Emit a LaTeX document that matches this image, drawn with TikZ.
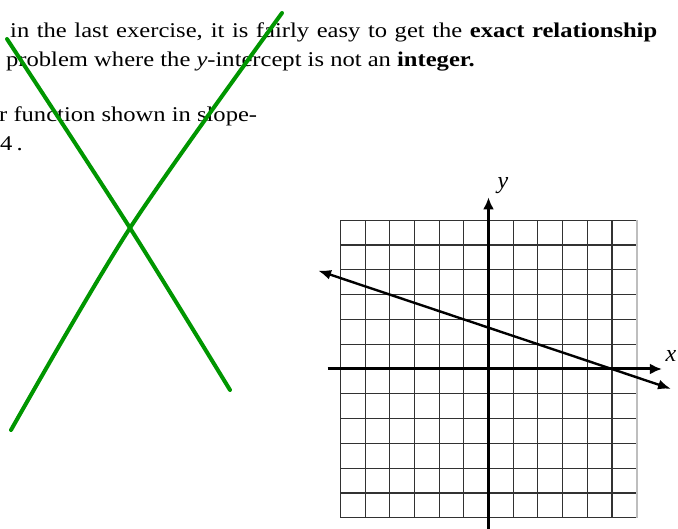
\documentclass[tikz,border=0pt]{standalone}
\usepackage{fontspec}
\setmainfont{Liberation Serif}
\usetikzlibrary{arrows.meta}
\definecolor{penGreen}{RGB}{0,150,0}
\definecolor{gridGray}{RGB}{50,50,50}
\definecolor{shadeGray}{RGB}{190,190,190}
\newcommand{\wide}[1]{\scalebox{1.17}[1]{#1}}
\tikzset{
  txt/.style={anchor=base west, inner sep=0pt, font=\fontsize{21}{24}\selectfont},
  axlabel/.style={inner sep=0pt, font=\fontsize{24}{26}\selectfont\itshape},
  gridline/.style={draw=gridGray, line width=1.3pt},
  axisline/.style={draw=black, line width=3pt, -{Latex[length=12pt,width=11pt]}},
  graphline/.style={draw=black, line width=2.4pt, {Latex[length=13pt,width=10pt]}-{Latex[length=13pt,width=10pt]}},
  penstroke/.style={draw=penGreen, line width=4pt, line cap=round, line join=round}
}
\begin{document}
\begin{tikzpicture}[x=1pt,y=-1pt]
\useasboundingbox (0,0) rectangle (678,529);
\fill[white] (0,0) rectangle (678,529);
% text
\node[txt] (l1) at (10,38) {\wide{\makebox[553pt][s]{in the last exercise, it is fairly easy to get the \textbf{exact relationship}}}};
\node[txt] (l2) at (6,67) {\wide{problem where the \textit{y}-intercept is not an \textbf{integer.}}};
\node[txt] (l3) at (-1,122) {\wide{r function shown in slope-}};
\node[txt] (l4) at (0,151) {\wide{4\,.}};
% grid
\begin{scope}[shift={(488.5,369)}, x=24.67pt, y=24.8pt]
  \foreach \i in {-6,...,5} \draw[gridline] (\i,-6) -- (\i,6);
  \foreach \j in {-6,...,6} \draw[gridline] (-6,\j) -- (6,\j);
  \draw[shadeGray, line width=2.6pt] (6.02,-6) -- (6.02,6);
  \coordinate (xs) at (-6.52,0);
  \coordinate (xe) at (7.03,0);
  \coordinate (ys) at (0,-6.5);
  \coordinate (ye) at (0,6.92);
  \coordinate (ls) at (-6.91,3.97);
  \coordinate (le) at (7.40,-0.80);
\end{scope}
\draw[axisline] (xs) -- (xe);
\draw[axisline] (ys) -- (ye);
\draw[graphline] (ls) -- (le);
\node[axlabel] (ylab) at (503,186) {y};
\node[axlabel] (xlab) at (671,356) {x};
% green X
\draw[penstroke] plot[smooth, tension=0.5] coordinates {(7,39) (130,228) (230,390)};
\draw[penstroke] plot[smooth, tension=0.5] coordinates {(282,13) (130,228) (11,430)};
\end{tikzpicture}
\end{document}
